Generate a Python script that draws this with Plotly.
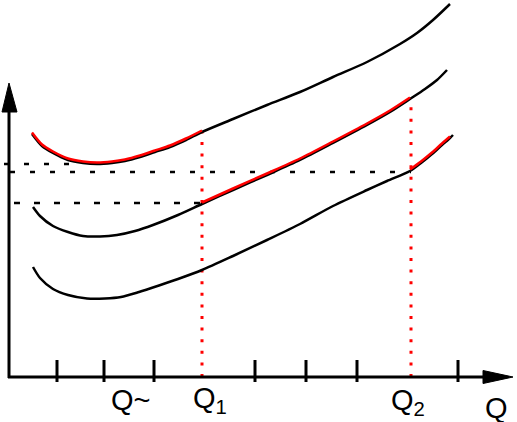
import plotly.graph_objects as go

# ---- data (chart units: Q to the right of the origin, C upward) ----
top_q = [23, 33, 44, 59, 74, 88, 103, 116, 131, 146, 161, 177, 193, 224, 258, 291, 324, 358, 391, 408, 424, 441]
top_c = [243, 231, 224, 217, 214, 213, 214, 216, 220, 225, 230, 237, 245, 258, 272, 285, 300, 315, 333, 344, 357, 373]

mid_q = [24, 31, 44, 59, 74, 91, 108, 126, 144, 169, 193, 224, 258, 291, 324, 358, 381, 401, 416, 428, 438]
mid_c = [170, 161, 151, 145, 141, 140.5, 142, 146, 152, 162, 173, 187, 202, 217, 234, 252, 265, 278, 288, 297, 307]

bot_q = [24, 31, 44, 59, 78, 96, 112, 130, 150, 169, 193, 224, 258, 291, 324, 358, 378, 401, 412, 423, 433, 441, 444]
bot_c = [110, 99, 88, 82, 78.5, 78.5, 80, 85, 91.5, 98, 107, 121, 137, 153, 171, 187, 196, 206, 214, 223, 232, 239, 242]

# red (highlighted) parts: index ranges on each curve
red_top = (0, 12)
red_mid = (10, 17)
red_bot = (17, 21)

Q1 = 193
Q2 = 402
q1_top = 246
q2_top = 272

tick_q = [48, 95, 145, 246, 297, 348, 449]

# horizontal dashed levels: (level, q_from, q_to)
h_levels = [(213, -5, 62), (205, 1, 402), (174, 5, 193)]

labels = [("Q~", 100, -23),
          ("Q<sub>1</sub>", 182, -23),
          ("Q<sub>2</sub>", 380, -25),
          ("Q", 474, -31)]

fig = go.Figure()

# dashed horizontal reference lines
dash_styles = ["5px,15px", "5px,15px", "6px,14px"]
for (lvl, a, b), ds in zip(h_levels, dash_styles):
    fig.add_trace(go.Scatter(x=[a, b], y=[lvl, lvl], mode="lines",
                             line=dict(color="black", width=2.5, dash=ds),
                             hoverinfo="skip", showlegend=False))

# red dotted verticals
for q, t in [(Q1, q1_top), (Q2, q2_top)]:
    fig.add_trace(go.Scatter(x=[q, q], y=[0, t], mode="lines",
                             line=dict(color="#ff0000", width=3, dash="3px,8.6px"),
                             hoverinfo="skip", showlegend=False))

# black curves
for qs, cs in [(top_q, top_c), (mid_q, mid_c), (bot_q, bot_c)]:
    fig.add_trace(go.Scatter(x=qs, y=cs, mode="lines",
                             line=dict(color="black", width=2.5, shape="spline", smoothing=0.8),
                             hoverinfo="skip", showlegend=False))

# red highlighted segments
for (qs, cs), (i0, i1) in [((top_q, top_c), red_top), ((mid_q, mid_c), red_mid), ((bot_q, bot_c), red_bot)]:
    fig.add_trace(go.Scatter(x=qs[i0:i1 + 1], y=[c + 1.5 for c in cs[i0:i1 + 1]], mode="lines",
                             line=dict(color="#ff0000", width=2.5, shape="spline", smoothing=0.8),
                             hoverinfo="skip", showlegend=False))

# axes
fig.add_trace(go.Scatter(x=[0, 0], y=[-1, 266], mode="lines",
                         line=dict(color="black", width=3), hoverinfo="skip", showlegend=False))
fig.add_trace(go.Scatter(x=[-1, 476], y=[0, 0], mode="lines",
                         line=dict(color="black", width=3), hoverinfo="skip", showlegend=False))
# arrow heads
fig.add_trace(go.Scatter(x=[-7, 8, 0, -7], y=[265, 265, 294, 265], mode="lines", fill="toself",
                         fillcolor="black", line=dict(color="black", width=1),
                         hoverinfo="skip", showlegend=False))
fig.add_trace(go.Scatter(x=[474, 474, 504, 474], y=[6.5, -6.5, 0, 6.5], mode="lines", fill="toself",
                         fillcolor="black", line=dict(color="black", width=1),
                         hoverinfo="skip", showlegend=False))

# tick marks
for q in tick_q:
    fig.add_trace(go.Scatter(x=[q, q], y=[-5, 17], mode="lines",
                             line=dict(color="black", width=3), hoverinfo="skip", showlegend=False))

for txt, x, y in labels:
    fig.add_annotation(x=x, y=y, text=txt, showarrow=False, xanchor="left", yanchor="middle",
                       font=dict(family="Liberation Sans, Arial, sans-serif", size=29, color="black"))

fig.update_layout(
    width=517, height=422,
    margin=dict(l=0, r=0, t=0, b=0),
    paper_bgcolor="white", plot_bgcolor="white",
    xaxis=dict(range=[-9, 508], visible=False, fixedrange=True),
    yaxis=dict(range=[-45, 377], visible=False, fixedrange=True),
    showlegend=False,
)

fig.write_html("out.html", config={"displayModeBar": False},
               post_script="document.body.style.margin='0';document.body.style.overflow='hidden';")
